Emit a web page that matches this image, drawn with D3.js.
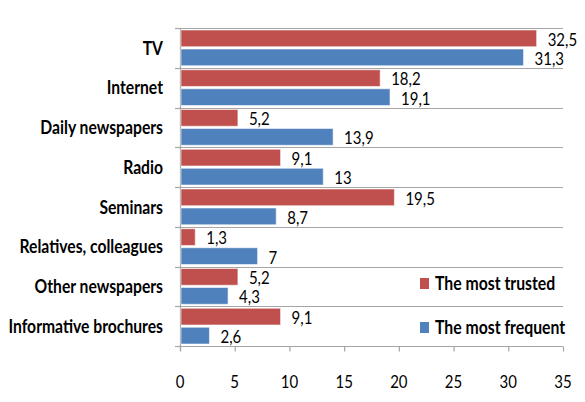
<!DOCTYPE html>
<html>
<head>
<meta charset="utf-8">
<script src="https://cdn.jsdelivr.net/npm/d3@7"></script>
<style>
  html, body { margin: 0; padding: 0; background: #fff; }
  svg { display: block; }
  text { font-family: Lato, "Open Sans", sans-serif; fill: #000; }
</style>
</head>
<body>
<svg id="chart" width="585" height="402"></svg>
<script>
// Information sources and the share of respondents (%)
const categories = [
  "TV", "Internet", "Daily newspapers", "Radio", "Seminars",
  "Relatives, colleagues", "Other newspapers", "Informative brochures"
];
const mostTrusted  = [32.5, 18.2, 5.2, 9.1, 19.5, 1.3, 5.2, 9.1];
const mostFrequent = [31.3, 19.1, 13.9, 13, 8.7, 7, 4.3, 2.6];
const seriesNames  = ["The most trusted", "The most frequent"];
const seriesColors = ["#C0504D", "#4F81BD"];
const xTicks = [0, 5, 10, 15, 20, 25, 30, 35];

const series = [mostTrusted, mostFrequent];
const rows = categories.map((c, i) => ({ cat: c, vals: series.map(s => s[i]) }));

const svg = d3.select("#chart");
const margin = { left: 180, right: 22, top: 28, bottom: 56 };
const W = 585, H = 402;
const SY = 1.15; // slightly tall lettering

const x = d3.scaleLinear().domain([0, 35]).range([margin.left, W - margin.right]);
const y = d3.scaleBand().domain(categories).range([margin.top, H - margin.bottom]).padding(0);
const ySub = d3.scaleBand().domain([0, 1]).range([2, y.bandwidth() - 2]).paddingInner(0.12);

const fmt = v => String(v).replace(".", ",");
const gridColor = "#a6a6a6";

// text placed at (tx, ty) and stretched vertically around its baseline
function label(parent, tx, ty, str, opts) {
  return parent.append("text")
    .attr("transform", `translate(${tx},${ty}) scale(1,${SY})`)
    .attr("text-anchor", opts.anchor || "start")
    .attr("dominant-baseline", "middle")
    .attr("font-size", opts.size)
    .attr("font-weight", opts.weight || "normal")
    .text(str);
}

// Horizontal separators at category boundaries
const bounds = categories.map(c => y(c)).concat([y.range()[1]]);
svg.append("g").selectAll("line").data(bounds).join("line")
  .attr("x1", x(0)).attr("x2", x(35))
  .attr("y1", d => Math.round(d) + 0.5).attr("y2", d => Math.round(d) + 0.5)
  .attr("stroke", gridColor).attr("stroke-width", 1.2);

// Y axis line with ticks at category boundaries
svg.append("line")
  .attr("x1", x(0) + 0.5).attr("x2", x(0) + 0.5)
  .attr("y1", y.range()[0]).attr("y2", y.range()[1] + 5)
  .attr("stroke", gridColor).attr("stroke-width", 1.2);
svg.append("g").selectAll("line").data(bounds).join("line")
  .attr("x1", x(0) - 5).attr("x2", x(0))
  .attr("y1", d => Math.round(d) + 0.5).attr("y2", d => Math.round(d) + 0.5)
  .attr("stroke", gridColor).attr("stroke-width", 1.2);

// X axis ticks and labels
const xAxis = d3.axisBottom(x).tickValues(xTicks).tickSize(5).tickFormat(() => "");
const axisY = Math.round(y.range()[1]) + 0.5;
const gx = svg.append("g").attr("transform", `translate(0,${axisY})`).call(xAxis);
gx.select(".domain").remove();
gx.selectAll(".tick line").attr("stroke", gridColor).attr("stroke-width", 1.2);
const gxl = svg.append("g");
xTicks.forEach(t => label(gxl, x(t), axisY + 37, t, { anchor: "middle", size: 15 }));

// Category labels
const gc = svg.append("g");
categories.forEach(c => label(gc, 163, y(c) + y.bandwidth() / 2 + 2, c, { anchor: "end", size: 15.7, weight: "bold" }));

// Bars with value labels
const g = svg.append("g");
rows.forEach(r => {
  r.vals.forEach((v, k) => {
    g.append("rect")
      .attr("x", x(0) + 1)
      .attr("y", y(r.cat) + ySub(k))
      .attr("width", x(v) - x(0))
      .attr("height", ySub.bandwidth())
      .attr("fill", seriesColors[k])
      .attr("stroke", "#ffffff").attr("stroke-opacity", 0.55).attr("stroke-width", 1);
    label(g, x(v) + 12, y(r.cat) + ySub(k) + ySub.bandwidth() / 2 + 3, fmt(v), { size: 15 });
  });
});

// Legend
const leg = svg.append("g");
seriesNames.forEach((name, k) => {
  const cy = [284, 328][k];
  leg.append("rect").attr("x", 420).attr("y", cy - 6).attr("width", 9).attr("height", 11)
    .attr("fill", seriesColors[k]);
  label(leg, 435, cy + 1, name, { size: 15.8, weight: "bold" });
});
</script>
</body>
</html>
